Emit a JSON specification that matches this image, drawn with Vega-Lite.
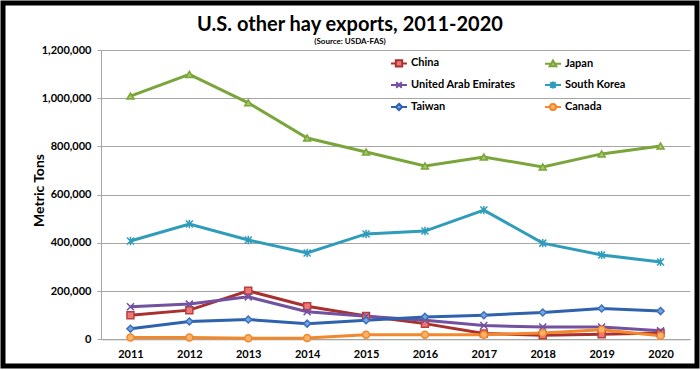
{
  "$schema": "https://vega.github.io/schema/vega-lite/v6.json",
  "width": 694,
  "height": 363,
  "autosize": "none",
  "padding": {"left": 3, "top": 3, "right": 3, "bottom": 4},
  "background": "white",
  "config": {
    "font": "Lato",
    "view": {"stroke": "black", "strokeWidth": 5, "fill": "white"}
  },
  "title": {
    "text": "U.S. other hay exports, 2011-2020",
    "subtitle": "(Source: USDA-FAS)",
    "anchor": "middle",
    "offset": -43,
    "font": "Lato",
    "fontSize": 20,
    "fontWeight": "bold",
    "color": "black",
    "subtitleFont": "Lato",
    "subtitleFontSize": 8,
    "subtitleFontWeight": "bold",
    "subtitleColor": "black",
    "subtitlePadding": 3
  },
  "data": {
    "values": [
      {"year": 2011, "country": "China", "value": 100000},
      {"year": 2012, "country": "China", "value": 121000},
      {"year": 2013, "country": "China", "value": 201000},
      {"year": 2014, "country": "China", "value": 137000},
      {"year": 2015, "country": "China", "value": 97000},
      {"year": 2016, "country": "China", "value": 65000},
      {"year": 2017, "country": "China", "value": 24000},
      {"year": 2018, "country": "China", "value": 17000},
      {"year": 2019, "country": "China", "value": 21000},
      {"year": 2020, "country": "China", "value": 26000},
      {"year": 2011, "country": "Japan", "value": 1009000},
      {"year": 2012, "country": "Japan", "value": 1099000},
      {"year": 2013, "country": "Japan", "value": 981000},
      {"year": 2014, "country": "Japan", "value": 835000},
      {"year": 2015, "country": "Japan", "value": 777000},
      {"year": 2016, "country": "Japan", "value": 719000},
      {"year": 2017, "country": "Japan", "value": 756000},
      {"year": 2018, "country": "Japan", "value": 715000},
      {"year": 2019, "country": "Japan", "value": 769000},
      {"year": 2020, "country": "Japan", "value": 802000},
      {"year": 2011, "country": "United Arab Emirates", "value": 135000},
      {"year": 2012, "country": "United Arab Emirates", "value": 146000},
      {"year": 2013, "country": "United Arab Emirates", "value": 176000},
      {"year": 2014, "country": "United Arab Emirates", "value": 114000},
      {"year": 2015, "country": "United Arab Emirates", "value": 96000},
      {"year": 2016, "country": "United Arab Emirates", "value": 79000},
      {"year": 2017, "country": "United Arab Emirates", "value": 57000},
      {"year": 2018, "country": "United Arab Emirates", "value": 51000},
      {"year": 2019, "country": "United Arab Emirates", "value": 51000},
      {"year": 2020, "country": "United Arab Emirates", "value": 35000},
      {"year": 2011, "country": "South Korea", "value": 408000},
      {"year": 2012, "country": "South Korea", "value": 478000},
      {"year": 2013, "country": "South Korea", "value": 412000},
      {"year": 2014, "country": "South Korea", "value": 358000},
      {"year": 2015, "country": "South Korea", "value": 437000},
      {"year": 2016, "country": "South Korea", "value": 449000},
      {"year": 2017, "country": "South Korea", "value": 536000},
      {"year": 2018, "country": "South Korea", "value": 399000},
      {"year": 2019, "country": "South Korea", "value": 350000},
      {"year": 2020, "country": "South Korea", "value": 321000},
      {"year": 2011, "country": "Taiwan", "value": 44000},
      {"year": 2012, "country": "Taiwan", "value": 74000},
      {"year": 2013, "country": "Taiwan", "value": 82000},
      {"year": 2014, "country": "Taiwan", "value": 65000},
      {"year": 2015, "country": "Taiwan", "value": 79000},
      {"year": 2016, "country": "Taiwan", "value": 93000},
      {"year": 2017, "country": "Taiwan", "value": 100000},
      {"year": 2018, "country": "Taiwan", "value": 111000},
      {"year": 2019, "country": "Taiwan", "value": 128000},
      {"year": 2020, "country": "Taiwan", "value": 117000},
      {"year": 2011, "country": "Canada", "value": 7000},
      {"year": 2012, "country": "Canada", "value": 7000},
      {"year": 2013, "country": "Canada", "value": 4000},
      {"year": 2014, "country": "Canada", "value": 5000},
      {"year": 2015, "country": "Canada", "value": 19000},
      {"year": 2016, "country": "Canada", "value": 19000},
      {"year": 2017, "country": "Canada", "value": 19000},
      {"year": 2018, "country": "Canada", "value": 26000},
      {"year": 2019, "country": "Canada", "value": 40000},
      {"year": 2020, "country": "Canada", "value": 15000}
    ]
  },
  "encoding": {
    "x": {
      "field": "year",
      "type": "quantitative",
      "scale": {"domain": [2010.5, 2020.5], "range": [98, 687], "nice": false, "zero": false},
      "axis": {
        "orient": "bottom",
        "offset": -26.7,
        "values": [2011, 2012, 2013, 2014, 2015, 2016, 2017, 2018, 2019, 2020],
        "format": "d",
        "grid": false,
        "ticks": false,
        "domainColor": "#A6A6A6",
        "domainWidth": 1,
        "labelFont": "Lato",
        "labelFontWeight": "bold",
        "labelFontSize": 11,
        "labelColor": "black",
        "labelPadding": 9,
        "title": null
      }
    },
    "y": {
      "field": "value",
      "type": "quantitative",
      "scale": {"domain": [0, 1200000], "range": [336.3, 47], "nice": false, "zero": true},
      "axis": {
        "orient": "left",
        "offset": -98,
        "values": [0, 200000, 400000, 600000, 800000, 1000000, 1200000],
        "format": ",d",
        "grid": true,
        "gridColor": "#A6A6A6",
        "gridWidth": 1,
        "domainColor": "#A6A6A6",
        "tickColor": "#A6A6A6",
        "tickSize": 4,
        "labelPadding": 6,
        "labelFont": "Lato",
        "labelFontWeight": "bold",
        "labelFontSize": 11,
        "labelColor": "black",
        "title": "Metric Tons",
        "titleFont": "Lato",
        "titleFontSize": 14,
        "titleFontWeight": "bold",
        "titleColor": "black",
        "titleBaseline": "middle",
        "titleX": -62,
        "titleY": 187
      }
    }
  },
  "layer": [
    {
      "mark": {"type": "line", "strokeWidth": 3},
      "encoding": {
        "color": {
          "field": "country",
          "type": "nominal",
          "scale": {
            "domain": ["China", "Japan", "United Arab Emirates", "South Korea", "Taiwan", "Canada"],
            "range": ["#A8302F", "#7AA53A", "#7151A0", "#2F9CBA", "#2E62AD", "#F2882A"]
          },
          "legend": null
        }
      }
    },
    {
      "mark": {"type": "point", "size": 49, "strokeWidth": 1.5, "opacity": 1},
      "encoding": {
        "shape": {
          "field": "country",
          "type": "nominal",
          "scale": {
            "domain": ["China", "Japan", "United Arab Emirates", "South Korea", "Taiwan", "Canada"],
            "range": ["square", "triangle-up", "M-1,-1L1,1M-1,1L1,-1", "M-1,-1L1,1M-1,1L1,-1M0,-1.2V1.2", "diamond", "circle"]
          },
          "legend": null
        },
        "stroke": {
          "field": "country",
          "type": "nominal",
          "scale": {
            "domain": ["China", "Japan", "United Arab Emirates", "South Korea", "Taiwan", "Canada"],
            "range": ["#B8403E", "#7AA53A", "#7151A0", "#2F9CBA", "#3A70BD", "#F2882A"]
          },
          "legend": null
        },
        "fill": {
          "field": "country",
          "type": "nominal",
          "scale": {
            "domain": ["China", "Japan", "United Arab Emirates", "South Korea", "Taiwan", "Canada"],
            "range": ["#EE7774", "#A6C965", "#8D73BA", "#5BB8D2", "#78A7E0", "#F9B26B"]
          },
          "legend": null
        }
      }
    },
    {
      "transform": [{"filter": "datum.value < 0"}],
      "mark": {"type": "point", "size": 256, "strokeWidth": 2, "opacity": 1},
      "encoding": {
        "shape": {
          "field": "country",
          "type": "nominal",
          "scale": {
            "domain": ["China", "Japan", "United Arab Emirates", "South Korea", "Taiwan", "Canada"],
            "range": [
              "M-1,0H-0.4M0.4,0H1M-0.4,-0.4H0.4V0.4H-0.4Z",
              "M-1,0H-0.26M0.26,0H1M0,-0.42L0.42,0.3H-0.42Z",
              "M-1,0H1M-0.35,-0.35L0.35,0.35M-0.35,0.35L0.35,-0.35",
              "M-1,0H1M-0.35,-0.35L0.35,0.35M-0.35,0.35L0.35,-0.35M0,-0.45V0.45",
              "M-1,0H-0.4M0.4,0H1M0,-0.4L0.4,0L0,0.4L-0.4,0Z",
              "M-1,0H-0.38M0.38,0H1M0.38,0A0.38,0.38,0,1,1,-0.38,0A0.38,0.38,0,1,1,0.38,0Z"
            ]
          },
          "legend": {"orient": "none", "direction": "horizontal", "legendX": 387, "legendY": 51, "columns": 2, "title": null, "padding": 0, "labelFont": "Lato", "labelFontWeight": "bold", "labelFontSize": 11, "labelColor": "black", "labelOffset": 3, "symbolSize": 256, "symbolStrokeWidth": 2, "columnPadding": 25, "rowPadding": 5}
        },
        "stroke": {
          "field": "country",
          "type": "nominal",
          "scale": {
            "domain": ["China", "Japan", "United Arab Emirates", "South Korea", "Taiwan", "Canada"],
            "range": ["#A8302F", "#7AA53A", "#7151A0", "#2F9CBA", "#2E62AD", "#F2882A"]
          },
          "legend": {"orient": "none", "direction": "horizontal", "legendX": 387, "legendY": 51, "columns": 2, "title": null, "padding": 0, "labelFont": "Lato", "labelFontWeight": "bold", "labelFontSize": 11, "labelColor": "black", "labelOffset": 3, "symbolSize": 256, "symbolStrokeWidth": 2, "columnPadding": 25, "rowPadding": 5}
        },
        "fill": {
          "field": "country",
          "type": "nominal",
          "scale": {
            "domain": ["China", "Japan", "United Arab Emirates", "South Korea", "Taiwan", "Canada"],
            "range": ["#EE7774", "#A6C965", "#8D73BA", "#5BB8D2", "#78A7E0", "#F9B26B"]
          },
          "legend": {"orient": "none", "direction": "horizontal", "legendX": 387, "legendY": 51, "columns": 2, "title": null, "padding": 0, "labelFont": "Lato", "labelFontWeight": "bold", "labelFontSize": 11, "labelColor": "black", "labelOffset": 3, "symbolSize": 256, "symbolStrokeWidth": 2, "columnPadding": 25, "rowPadding": 5}
        }
      }
    }
  ],
  "resolve": {"scale": {"shape": "independent", "stroke": "independent", "fill": "independent"}}
}
